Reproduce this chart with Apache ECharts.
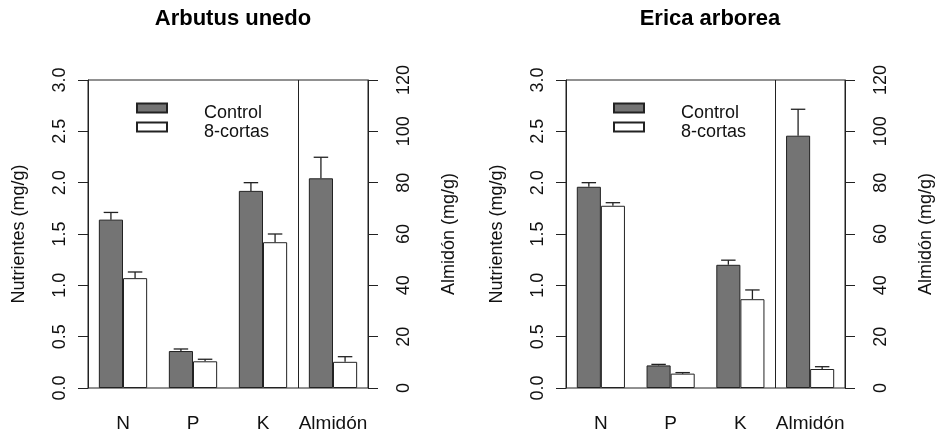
<!DOCTYPE html>
<html>
<head>
<meta charset="utf-8">
<script src="https://cdn.jsdelivr.net/npm/echarts@6/dist/echarts.min.js"></script>
<style>html,body{margin:0;padding:0;background:#fff}#c{width:939px;height:435px}</style>
</head>
<body>
<div id="c"></div>
<script>
const categories = ['N', 'P', 'K', 'Almidón'];
const seriesNames = ['Control', '8-cortas'];
const panelTitles = ['Arbutus unedo', 'Erica arborea'];
const leftTicks = [0, 0.5, 1.0, 1.5, 2.0, 2.5, 3.0];
const rightTicks = [0, 20, 40, 60, 80, 100, 120];

// Arbutus unedo: N, P, K (mg/g, left axis) and Almidón (mg/g, right axis)
const arbutusControl = [1.64, 0.36, 1.92];
const arbutusControlSE = [0.07, 0.02, 0.08];
const arbutus8 = [1.07, 0.26, 1.42];
const arbutus8SE = [0.06, 0.02, 0.08];
const arbutusAlmControl = 81.7, arbutusAlmControlSE = 8.2;
const arbutusAlm8 = 10.2, arbutusAlm8SE = 2.0;

// Erica arborea
const ericaControl = [1.96, 0.22, 1.20];
const ericaControlSE = [0.04, 0.01, 0.045];
const erica8 = [1.775, 0.14, 0.865];
const erica8SE = [0.03, 0.01, 0.09];
const ericaAlmControl = 98.3, ericaAlmControlSE = 10.3;
const ericaAlm8 = 7.4, ericaAlm8SE = 0.9;

const FONT = 'Liberation Sans';
const GROUP = 0.69; // fraction of band used by the pair of bars
const colors = ['#747474', '#ffffff'];

function errRender(params, api) {
  const cat = api.value(0), mean = api.value(1), hi = api.value(2), side = api.value(3);
  const band = api.size([1, 0])[0];
  const barW = band * GROUP / 2;
  const off = side * barW / 2;
  const b = api.coord([cat, mean]);
  const t = api.coord([cat, hi]);
  const x = b[0] + off;
  const cap = barW * 0.3;
  const st = { stroke: '#222', lineWidth: 1.3 };
  return {
    type: 'group',
    children: [
      { type: 'line', shape: { x1: x, y1: b[1], x2: x, y2: t[1] }, style: st },
      { type: 'line', shape: { x1: x - cap, y1: t[1], x2: x + cap, y2: t[1] }, style: st }
    ]
  };
}

const grids = [
  { left: 88, right: 571, top: 80, bottom: 47 },
  { left: 566, right: 94, top: 80, bottom: 47 }
];
const centers = [228, 705];
const legendLeft = [136, 613];

const panels = [
  { c: arbutusControl, cse: arbutusControlSE, e: arbutus8, ese: arbutus8SE,
    ac: arbutusAlmControl, acse: arbutusAlmControlSE, ae: arbutusAlm8, aese: arbutusAlm8SE },
  { c: ericaControl, cse: ericaControlSE, e: erica8, ese: erica8SE,
    ac: ericaAlmControl, acse: ericaAlmControlSE, ae: ericaAlm8, aese: ericaAlm8SE }
];

const option = {
  backgroundColor: '#fff',
  animation: false,
  title: [], grid: [], xAxis: [], yAxis: [], legend: [], series: []
};

panels.forEach((p, i) => {
  option.title.push({
    text: panelTitles[i], left: centers[i], top: 3, textAlign: 'center',
    textStyle: { fontFamily: FONT, fontWeight: 'bold', fontSize: 22, color: '#000' }
  });
  option.grid.push(Object.assign({ show: true, borderColor: '#222', borderWidth: 1, backgroundColor: 'transparent' }, grids[i]));
  // main category axis (nutrients)
  option.xAxis.push({
    type: 'category', gridIndex: i, data: categories, boundaryGap: true,
    axisLine: { show: false }, axisTick: { show: false },
    axisLabel: { interval: 0, fontFamily: FONT, fontSize: 19, color: '#111', margin: 26 },
    splitLine: { show: false }
  });
  // twin category axis (starch)
  option.xAxis.push({
    type: 'category', gridIndex: i, data: categories, boundaryGap: true, show: false
  });
  // separator axis: splits the band positions, line between K and Almidón
  option.xAxis.push({
    type: 'value', gridIndex: i, min: 0, max: categories.length, interval: 3,
    axisLine: { show: false }, axisTick: { show: false }, axisLabel: { show: false },
    splitLine: { show: true, lineStyle: { color: '#222', width: 1 } }
  });
  option.yAxis.push({
    type: 'value', gridIndex: i, position: 'left', min: 0, max: 3, interval: 0.5,
    name: 'Nutrientes (mg/g)', nameLocation: 'middle', nameGap: 60,
    nameTextStyle: { fontFamily: FONT, fontSize: 18, color: '#111' },
    axisLine: { show: true, lineStyle: { color: '#222' } },
    axisTick: { show: true, length: 10, lineStyle: { color: '#222' } },
    axisLabel: { fontFamily: FONT, fontSize: 18, color: '#111', rotate: 90, margin: 19,
      formatter: v => leftTicks.indexOf(v) >= 0 ? v.toFixed(1) : '' },
    splitLine: { show: false }
  });
  option.yAxis.push({
    type: 'value', gridIndex: i, position: 'right', min: 0, max: 120, interval: 20,
    name: 'Almidón (mg/g)', nameLocation: 'middle', nameGap: 72, nameRotate: 90,
    nameTextStyle: { fontFamily: FONT, fontSize: 18, color: '#111' },
    axisLine: { show: true, lineStyle: { color: '#222' } },
    axisTick: { show: true, length: 10, lineStyle: { color: '#222' } },
    axisLabel: { fontFamily: FONT, fontSize: 18, color: '#111', rotate: 90, margin: 27,
      formatter: v => rightTicks.indexOf(v) >= 0 ? String(v) : '' },
    splitLine: { show: false }
  });
  option.legend.push({
    orient: 'vertical', left: legendLeft[i], top: 94, icon: 'rect', padding: 0,
    itemWidth: 30, itemHeight: 9, itemGap: -9,
    data: seriesNames,
    formatter: name => '{t|' + name + '}',
    textStyle: { fontFamily: FONT, fontSize: 18, color: '#111', lineHeight: 18, padding: [10, 0, 0, 32],
      rich: { t: { fontFamily: FONT, fontSize: 18, color: '#111', lineHeight: 18 } } }
  });
  const xi = i * 3, yi = i * 2;
  const barBase = { type: 'bar', barGap: '0%', barCategoryGap: ((1 - GROUP) * 100) + '%' };
  const nutC = p.c.concat(['-']);
  const nutE = p.e.concat(['-']);
  option.series.push(Object.assign({ name: seriesNames[0], xAxisIndex: xi, yAxisIndex: yi, data: nutC,
    itemStyle: { color: colors[0], borderColor: '#222', borderWidth: 1 } }, barBase));
  option.series.push(Object.assign({ name: seriesNames[1], xAxisIndex: xi, yAxisIndex: yi, data: nutE,
    itemStyle: { color: colors[1], borderColor: '#222', borderWidth: 1 } }, barBase));
  option.series.push(Object.assign({ name: seriesNames[0], xAxisIndex: xi + 1, yAxisIndex: yi + 1, data: ['-', '-', '-', p.ac],
    itemStyle: { color: colors[0], borderColor: '#222', borderWidth: 1 } }, barBase));
  option.series.push(Object.assign({ name: seriesNames[1], xAxisIndex: xi + 1, yAxisIndex: yi + 1, data: ['-', '-', '-', p.ae],
    itemStyle: { color: colors[1], borderColor: '#222', borderWidth: 1 } }, barBase));
  const errN = [];
  for (let k = 0; k < 3; k++) {
    errN.push([k, p.c[k], p.c[k] + p.cse[k], -1]);
    errN.push([k, p.e[k], p.e[k] + p.ese[k], 1]);
  }
  option.series.push({ type: 'custom', xAxisIndex: xi, yAxisIndex: yi, renderItem: errRender,
    encode: { x: 0, y: [1, 2] }, data: errN, z: 5, silent: true });
  option.series.push({ type: 'custom', xAxisIndex: xi + 1, yAxisIndex: yi + 1, renderItem: errRender,
    encode: { x: 0, y: [1, 2] }, data: [[3, p.ac, p.ac + p.acse, -1], [3, p.ae, p.ae + p.aese, 1]], z: 5, silent: true });
});

const chart = echarts.init(document.getElementById('c'), null, { renderer: 'canvas' });
chart.setOption(option);
</script>
</body>
</html>
